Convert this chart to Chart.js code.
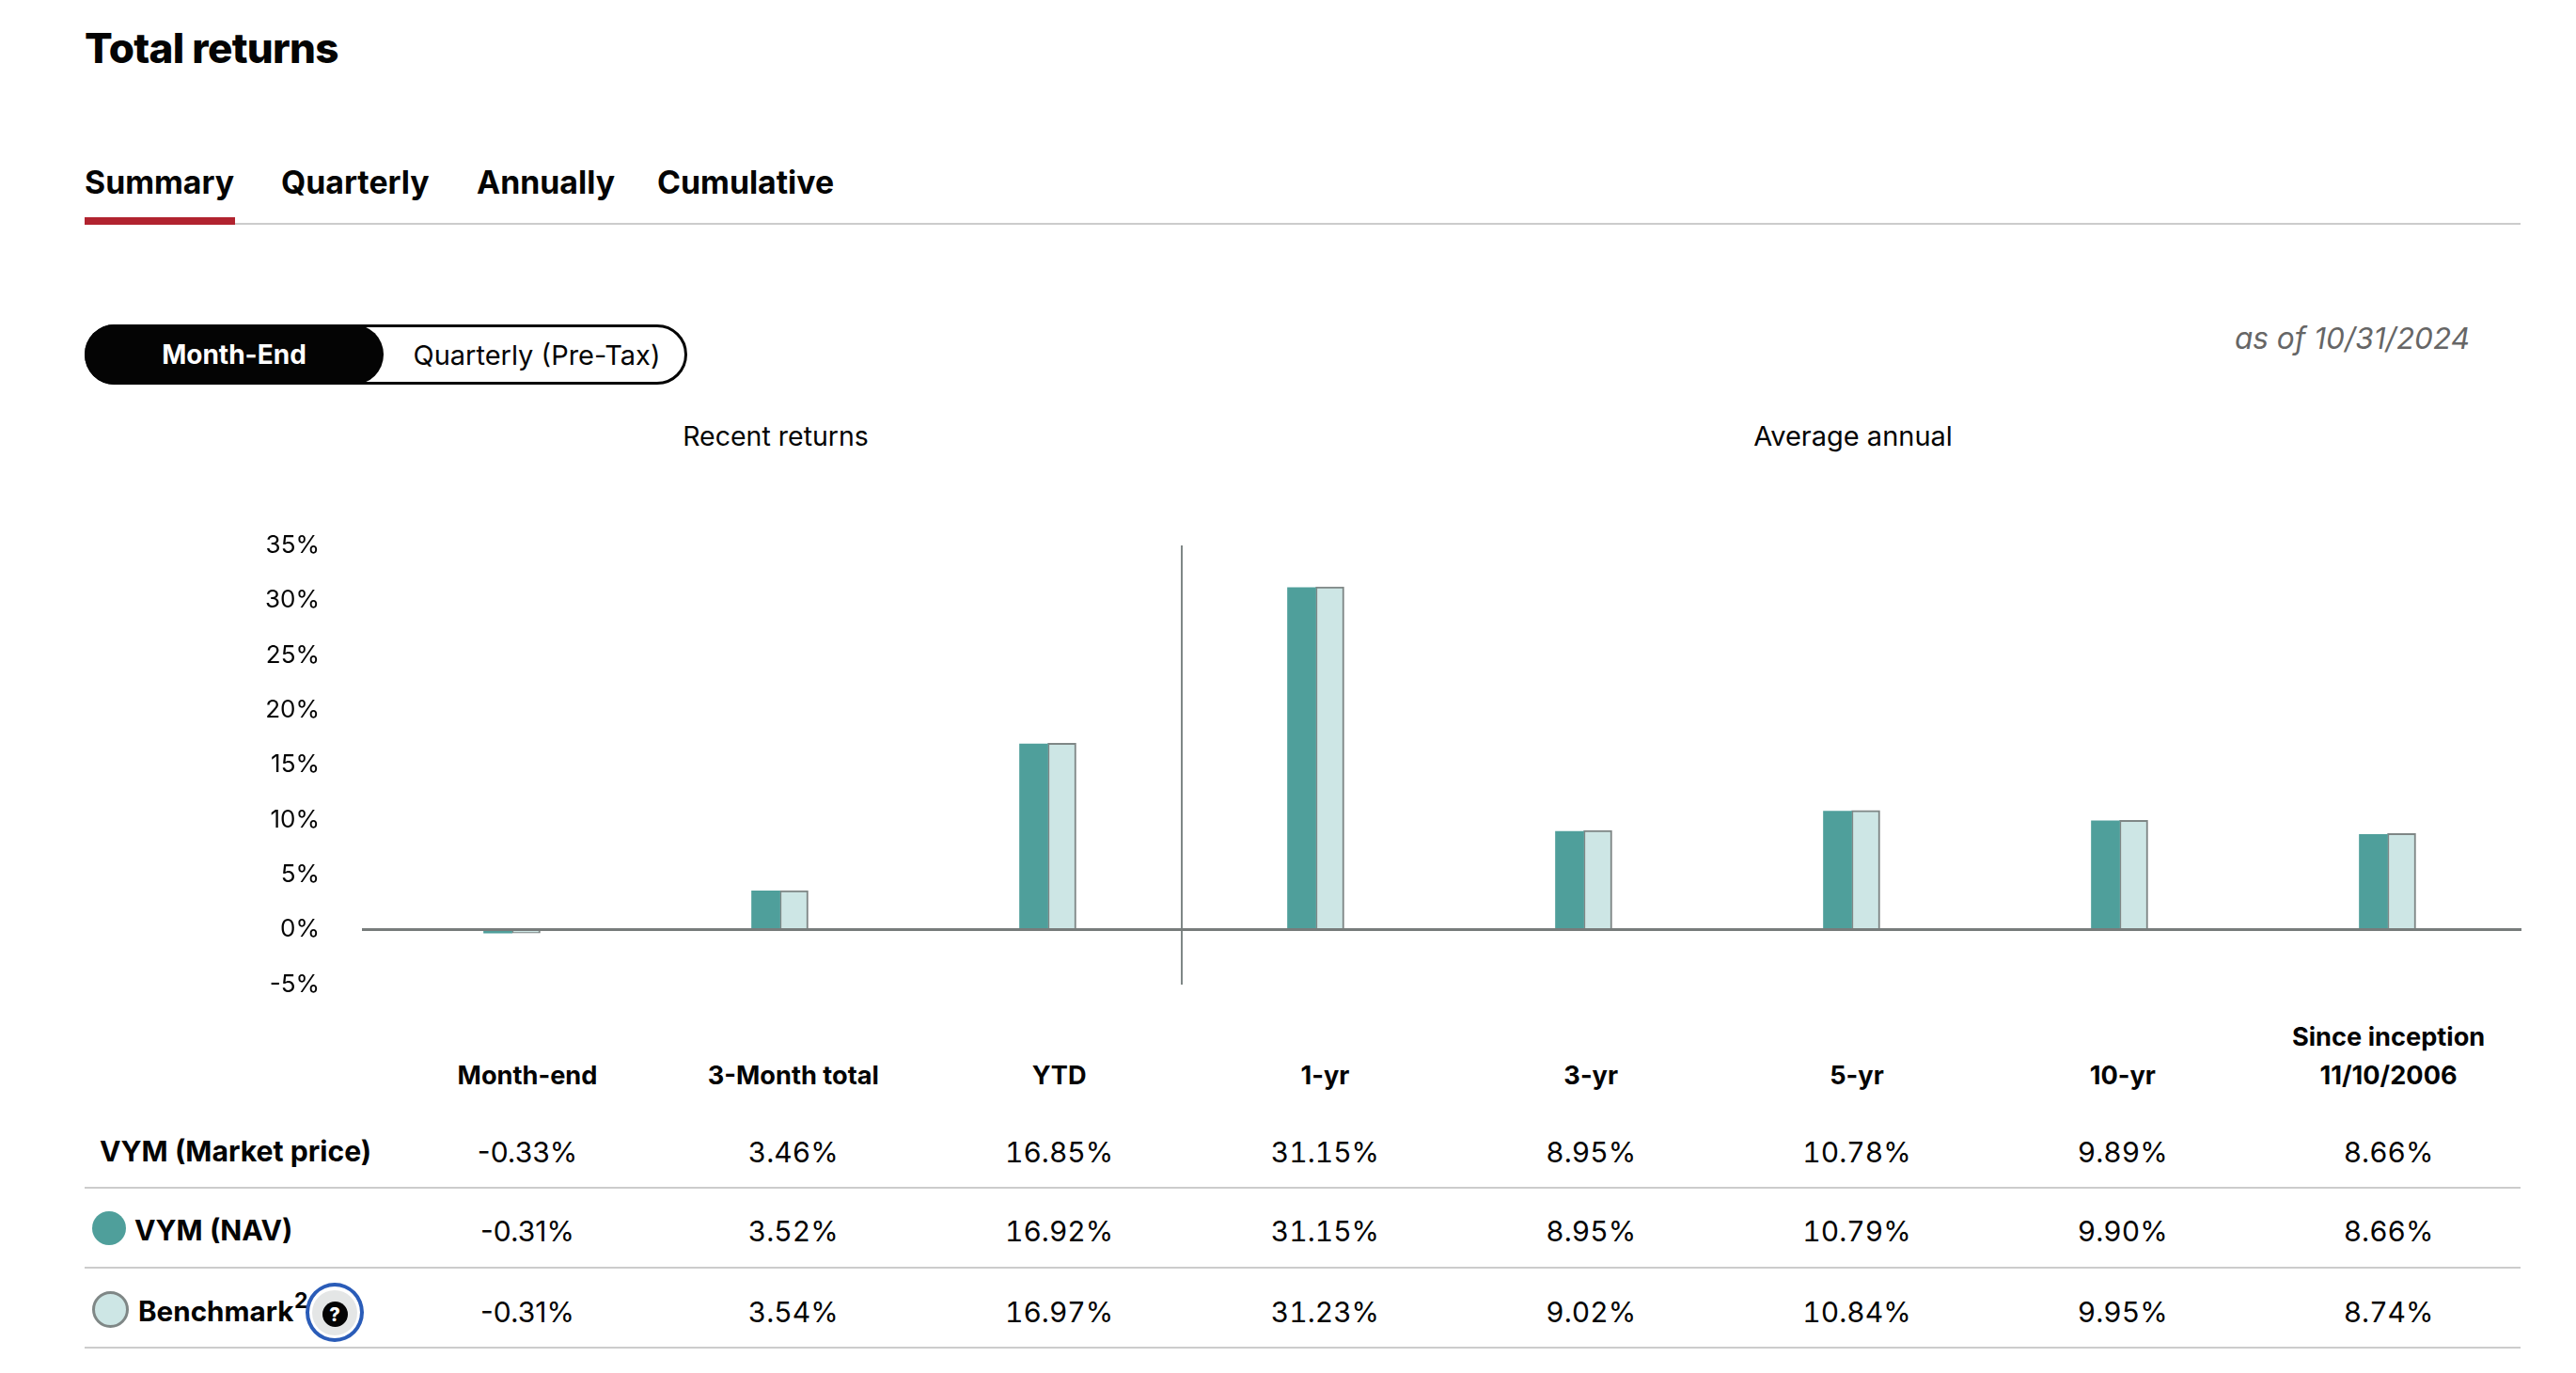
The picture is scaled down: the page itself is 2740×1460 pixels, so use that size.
<!DOCTYPE html>
<html><head><meta charset="utf-8">
<style>
html,body{margin:0;padding:0;background:#fff;width:2740px;height:1460px;overflow:hidden}
body{position:relative;font-family:Inter,sans-serif;color:#040404}
.t{position:absolute;white-space:nowrap;line-height:1}
.c{transform:translateX(-50%)}
.b{font-weight:700}
#wrap{position:absolute;left:0;top:540px;width:2740px;height:540px}
</style>
<script src="https://cdn.jsdelivr.net/npm/chart.js@4"></script>
</head><body>
<div id="wrap"><canvas id="c" width="2740" height="540"></canvas></div>
<script>
const categories=["Month-end","3-Month total","YTD","1-yr","3-yr","5-yr","10-yr","Since inception"];
const headerLines=[["Month-end"],["3-Month total"],["YTD"],["1-yr"],["3-yr"],["5-yr"],["10-yr"],["Since inception","11/10/2006"]];
const marketPrice=[-0.33,3.46,16.85,31.15,8.95,10.78,9.89,8.66];
const nav=[-0.31,3.52,16.92,31.15,8.95,10.79,9.90,8.66];
const benchmark=[-0.31,3.54,16.97,31.23,9.02,10.84,9.95,8.74];
const yTicks=[-5,0,5,10,15,20,25,30,35];
const tabs=[["Summary",90],["Quarterly",299],["Annually",507],["Cumulative",699]];

function txt(s,x,base,size,opts){opts=opts||{};
  const d=document.createElement('div');d.className='t'+(opts.center?' c':'')+(opts.bold?' b':'');
  d.textContent=s;d.style.left=x+'px';d.style.top=(base-size*0.86)+'px';d.style.fontSize=size+'px';
  if(opts.color)d.style.color=opts.color;if(opts.italic)d.style.fontStyle='italic';
  if(opts.weight)d.style.fontWeight=opts.weight;
  if(opts.ls)d.style.letterSpacing=opts.ls+'px';
  if(opts.tnum)d.style.fontFeatureSettings='"tnum"';
  document.body.appendChild(d);return d;}
function box(x,y,w,h,css){const d=document.createElement('div');d.style.cssText='position:absolute;left:'+x+'px;top:'+y+'px;width:'+w+'px;height:'+h+'px;box-sizing:border-box;'+css;document.body.appendChild(d);return d;}

txt("Total returns",90,67,44,{bold:true,weight:800,ls:-0.7});
tabs.forEach(t=>txt(t[0],t[1],206,33.8,{bold:true}));
box(90,237,2591,2,'background:#ccc');
box(90,231,160,8,'background:#b1232f');
box(90,345,641,64,'border:3px solid #040404;border-radius:32px');
box(90,345,318,64,'background:#040404;border-radius:32px/32px');
txt("Month-End",249,387,28,{bold:true,center:true,color:'#fff'});
txt("Quarterly (Pre-Tax)",571,388,29,{center:true});
txt("as of 10/31/2024",2502,371,31.5,{center:true,italic:true,color:'#666'});
txt("Recent returns",825,474.5,28.5,{center:true});
txt("Average annual",1971,474,29,{center:true});

const colCenter=i=>561+282.8*i;
headerLines.forEach((ls,i)=>{const n=ls.length;ls.forEach((l,k)=>txt(l,colCenter(i),1153.5-(n-1-k)*41,27.2,{bold:true,center:true}));});
[[marketPrice,1235.5],[nav,1319.5],[benchmark,1405.5]].forEach(r=>r[0].forEach((v,i)=>txt(v.toFixed(2)+'%',colCenter(i),r[1],30,{center:true,tnum:v>=0})));
[1262,1347,1432].forEach(y=>box(90,y,2591,2,'background:#ccc'));
txt("VYM (Market price)",106,1235,30.2,{bold:true});
box(98,1288,36,36,'background:#4f9f9b;border-radius:50%');
txt("VYM (NAV)",143,1319,30.2,{bold:true});
box(98,1373,39,39,'background:#cde6e5;border:3px solid #7f8786;border-radius:50%');
txt("Benchmark",147,1405,29.6,{bold:true});
txt("2",313,1392,23,{bold:true});
box(325,1364,62,63,'border:4px solid #2a5cb8;border-radius:50%;background:#fff');
box(332,1372,48,48,'background:#e4e6e6;border-radius:50%');
box(342.5,1384,27,27,'background:#040404;border-radius:50%');
txt("?",356,1405,20,{bold:true,center:true,color:'#fff',weight:800});

new Chart(document.getElementById('c'),{
  type:'bar',
  data:{labels:categories,datasets:[
    {label:'VYM (NAV)',data:nav,backgroundColor:'#4f9f9b',barThickness:30,borderWidth:0},
    {label:'Benchmark',data:benchmark,backgroundColor:'#cde6e5',borderColor:'#7f8786',borderWidth:2,barThickness:30}
  ]},
  options:{responsive:false,animation:false,
    plugins:{legend:{display:false},tooltip:{enabled:false},title:{display:false}},
    scales:{
      x:{display:true,ticks:{display:false},border:{display:false},
         grid:{offset:true,drawTicks:false,z:1,lineWidth:2,color:c=>c.index===3?'#7f8786':'rgba(0,0,0,0)'}},
      y:{min:-5,max:35,afterFit:s=>{s.width=402;s.paddingTop=0;s.paddingBottom=0;},
         afterBuildTicks:s=>{s.ticks=yTicks.map(v=>({value:v}));},
         ticks:{padding:45,color:'#040404',font:{family:'Inter',size:26},callback:v=>v+'%',autoSkip:false},
         border:{display:false},
         grid:{z:1,tickLength:17,lineWidth:c=>c.tick&&c.tick.value===0?3:0,
               color:c=>c.tick&&c.tick.value===0?'#777c7b':'rgba(0,0,0,0)',
               tickColor:c=>c.tick&&c.tick.value===0?'#777c7b':'rgba(0,0,0,0)'}}
    },
    layout:{padding:{top:40,bottom:33.2,right:58,left:0}}
  }
});
</script>
</body></html>
